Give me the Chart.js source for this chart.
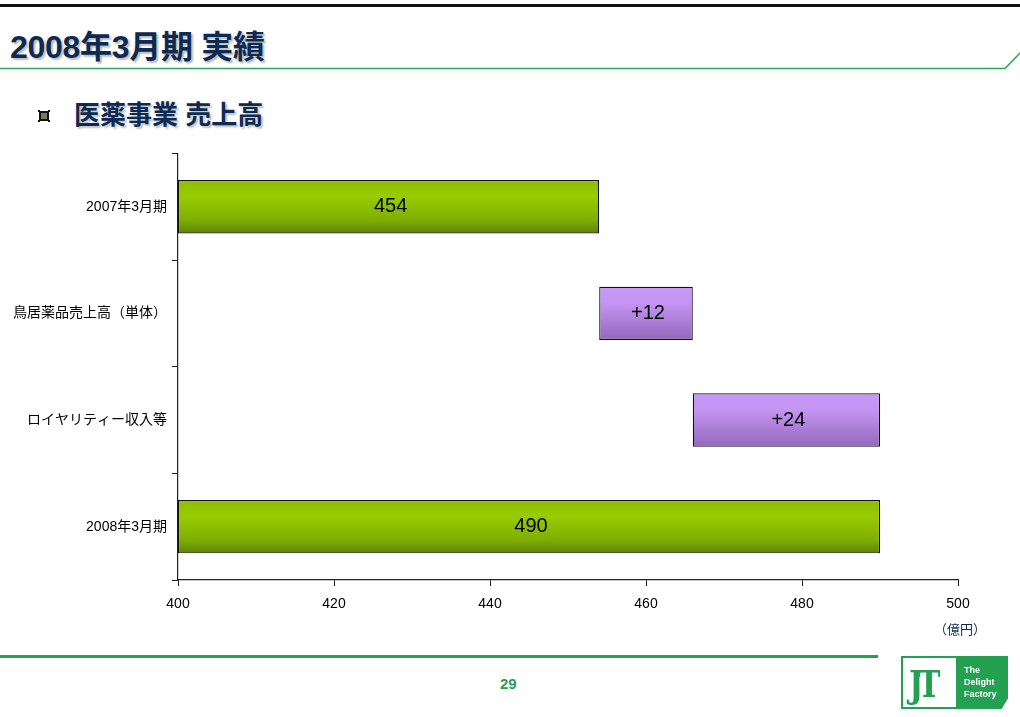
<!DOCTYPE html>
<html lang="ja">
<head>
<meta charset="utf-8">
<title>2008年3月期 実績</title>
<script src="https://cdn.jsdelivr.net/npm/chart.js@4.4.1/dist/chart.umd.min.js"></script>
<style>
  html, body { margin: 0; padding: 0; background: #fff; }
  body { width: 1020px; height: 717px; position: relative; overflow: hidden;
         font-family: "Liberation Sans", "Noto Sans CJK JP", sans-serif; }
  .topbar { position: absolute; left: 0; top: 4px; width: 1020px; height: 3px; background: #111; }
  .title { position: absolute; left: 10px; top: 21px; font-size: 32px; font-weight: bold;
           color: #0d2b52; letter-spacing: -0.3px; text-shadow: 2px 2px 2px rgba(0,0,0,0.28); }
  .subtitle { position: absolute; left: 74px; top: 94px; font-size: 26px; font-weight: bold;
              color: #0d2b52; text-shadow: 2px 2px 2px rgba(0,0,0,0.25); }
  .bullet { position: absolute; left: 38px; top: 110px; width: 12px; height: 12px; }
  .bullet .o { position: absolute; left: 1px; top: 1px; width: 10px; height: 10px; background: #111; }
  .bullet .i { position: absolute; left: 3px; top: 3px; width: 6px; height: 6px; background: #7b7b55; }
  .bullet .c { position: absolute; width: 2px; height: 2px; background: #111; }
  #wrap { position: absolute; left: 0; top: 140px; width: 1000px; height: 500px; }
  .unit { position: absolute; left: 934px; top: 619px; font-size: 13px; color: #0d2b52; }
  .footline { position: absolute; left: 0; top: 655px; width: 878px; height: 3px; background: #23a050; }
  .page { position: absolute; left: 500px; top: 675px; font-size: 15px; font-weight: bold; color: #23a050; }
  .logo { position: absolute; left: 901px; top: 656px; width: 107px; height: 53px; background: #23a050;
          clip-path: polygon(0 0, 100% 0, 100% 80%, 94% 100%, 0 100%); }
  .logo .w { position: absolute; left: 2px; top: 2px; width: 53px; height: 49px; background: #fff; }
  .logo .jt { position: absolute; left: 6px; top: 3px; font-family: "DejaVu Serif", serif; font-weight: bold;
              font-size: 38px; color: #23a050; letter-spacing: -7px; transform: scaleX(0.8); transform-origin: left; }
  .logo .tag { position: absolute; left: 63px; top: 8px; font-size: 9px; line-height: 12px; font-weight: bold; color: #fff; }
</style>
</head>
<body>
<div class="topbar"></div>
<div class="title">2008年3月期 実績</div>
<svg style="position:absolute;left:0;top:0" width="1020" height="80">
  <polyline points="0,68.5 1005,68.5 1020,53" fill="none" stroke="#2aa65a" stroke-width="1.5"/>
</svg>
<div class="bullet"><div class="o"></div>
  <div class="c" style="left:0;top:0"></div><div class="c" style="left:10px;top:0"></div>
  <div class="c" style="left:0;top:10px"></div><div class="c" style="left:10px;top:10px"></div>
  <div class="i"></div></div>
<div class="subtitle">医薬事業 売上高</div>
<div id="wrap"><canvas id="chart"></canvas></div>
<div class="unit">（億円）</div>
<div class="footline"></div>
<div class="page">29</div>
<div class="logo"><div class="w"><div class="jt">JT</div></div>
  <div class="tag">The<br>Delight<br>Factory</div></div>

<script>
// Categories, steps and tick labels
const categories = ["2007年3月期", "鳥居薬品売上高（単体）", "ロイヤリティー収入等", "2008年3月期"];
const stepValues = [454, 12, 24, 490];          // total, increment, increment, total
const stepKinds  = ["total", "delta", "delta", "total"];
const stepLabels = ["454", "+12", "+24", "490"];
const axisMin = 400, axisMax = 500, axisStep = 20;
const barShare = 0.5;

// Floating [start, end] ranges for the waterfall, built from the step values
const ranges = [];
let running = axisMin;
stepValues.forEach((v, i) => {
  if (stepKinds[i] === "total") { ranges.push([axisMin, v]); running = v; }
  else { ranges.push([running, running + v]); running += v; }
});

const fontFamily = "'Liberation Sans', 'Noto Sans CJK JP', sans-serif";

// Vertical gradient per bar, placed from the category scale
function barFill(ctx) {
  const chart = ctx.chart;
  const total = stepKinds[ctx.dataIndex] === "total";
  const solid = total ? "#8fc000" : "#b888e8";
  const ys = chart.scales && chart.scales.y;
  if (!ys || !chart.chartArea) return solid;
  const cy = ys.getPixelForValue(ctx.dataIndex);
  const h = (chart.chartArea.bottom - chart.chartArea.top) / categories.length * barShare;
  if (!Number.isFinite(cy) || !Number.isFinite(h)) return solid;
  const g = chart.ctx.createLinearGradient(0, cy - h / 2, 0, cy + h / 2);
  if (total) {
    g.addColorStop(0, "#8cbd00");
    g.addColorStop(0.3, "#99cc00");
    g.addColorStop(0.75, "#7fae00");
    g.addColorStop(1, "#5e8400");
  } else {
    g.addColorStop(0, "#c898f8");
    g.addColorStop(0.3, "#c495f2");
    g.addColorStop(1, "#9468bc");
  }
  return g;
}

const valueLabels = {
  id: "valueLabels",
  afterDatasetsDraw(chart) {
    const c = chart.ctx;
    const meta = chart.getDatasetMeta(0);
    c.save();
    c.font = "20px " + fontFamily;
    c.fillStyle = "#000";
    c.textAlign = "center";
    c.textBaseline = "middle";
    meta.data.forEach((el, i) => {
      const x0 = chart.scales.x.getPixelForValue(ranges[i][0]);
      const x1 = chart.scales.x.getPixelForValue(ranges[i][1]);
      c.fillText(stepLabels[i], (x0 + x1) / 2 + 2, el.y);
    });
    c.restore();
  }
};

new Chart(document.getElementById("chart"), {
  type: "bar",
  data: {
    labels: categories,
    datasets: [{
      data: ranges,
      backgroundColor: barFill,
      borderColor: "#111",
      borderWidth: 1.2,
      borderSkipped: false,
      categoryPercentage: 1,
      barPercentage: barShare
    }]
  },
  options: {
    indexAxis: "y",
    responsive: true,
    maintainAspectRatio: false,
    animation: false,
    layout: { padding: { top: 12, right: 42, left: 0, bottom: 0 } },
    plugins: { legend: { display: false }, tooltip: { enabled: false } },
    scales: {
      x: {
        type: "linear",
        min: axisMin, max: axisMax,
        ticks: { stepSize: axisStep, color: "#000", padding: 10, font: { size: 14, family: fontFamily } },
        grid: { drawOnChartArea: false, drawTicks: true, tickLength: 6, color: "#222", lineWidth: 1 },
        border: { display: true, color: "#222", width: 1.2 },
        afterFit(s) { s.height = 60; }
      },
      y: {
        type: "category",
        offset: true,
        ticks: { color: "#000", padding: 5, font: { size: 14, family: fontFamily } },
        grid: { offset: true, drawOnChartArea: false, drawTicks: true, tickLength: 6, color: "#222", lineWidth: 1 },
        border: { display: true, color: "#222", width: 1.2 },
        afterFit(s) { s.width = 178; }
      }
    }
  },
  plugins: [valueLabels]
});
</script>
</body>
</html>
